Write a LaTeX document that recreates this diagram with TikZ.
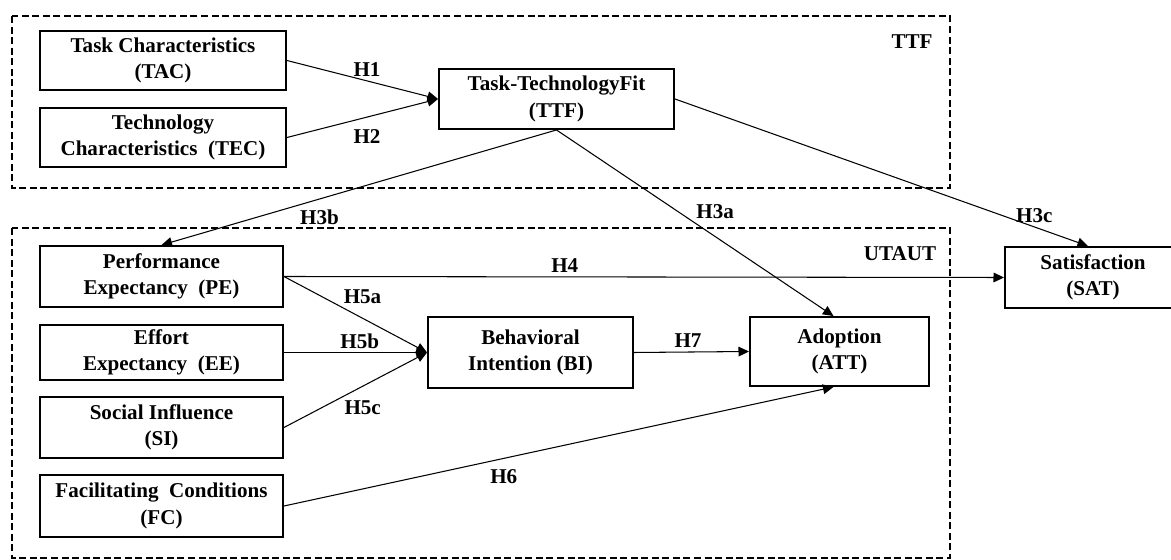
\documentclass[tikz,border=0pt]{standalone}
\usepackage{fontspec}
\setmainfont{Liberation Serif}
\usetikzlibrary{arrows.meta}

\begin{document}
\begin{tikzpicture}[x=0.02cm,y=-0.02cm,
    font=\bfseries\fontsize{12}{15}\selectfont,
    construct/.style={draw,line width=1.1pt,align=center,inner sep=0pt},
    path/.style={line width=0.6pt,-{Triangle[length=6pt,width=5.5pt]}},
    hyp/.style={inner sep=2pt},
    group/.style={line width=1.1pt,dash pattern=on 4pt off 2pt}]
    \useasboundingbox (0,0) rectangle (1171,560);
    %% the two frames
    \draw[group] (12,16) rectangle (950,188);
    \draw[group] (12,228) rectangle (950,558);
    \node (ttflbl) at (912,42) {TTF};
    \node (utautlbl) at (900,254) {UTAUT};
    %% task-technology fit part
    \node[construct,minimum width=246*0.02cm,minimum height=59*0.02cm] (tac) at (163,60.5)
        {Task Characteristics\\(TAC)};
    \node[construct,minimum width=246*0.02cm,minimum height=59*0.02cm] (tec) at (163,137.5)
        {Technology\\Characteristics~ (TEC)};
    \node[construct,minimum width=235*0.02cm,minimum height=60*0.02cm] (ttf) at (556.5,99)
        {Task-TechnologyFit\\(TTF)};
    %% utaut part (left column)
    \node[construct,minimum width=243*0.02cm,minimum height=61*0.02cm] (pe) at (161.5,276.5)
        {Performance\\Expectancy~ (PE)};
    \node[construct,minimum width=243*0.02cm,minimum height=55*0.02cm] (ee) at (161.5,352.5)
        {Effort\\Expectancy~ (EE)};
    \node[construct,minimum width=243*0.02cm,minimum height=61*0.02cm] (si) at (161.5,427.5)
        {Social Influence\\(SI)};
    \node[construct,minimum width=243*0.02cm,minimum height=62*0.02cm] (fc) at (161.5,506)
        {Facilitating~ Conditions\\(FC)};
    %% middle and outcomes
    \node[construct,minimum width=205*0.02cm,minimum height=71*0.02cm] (bi) at (530.5,352.5)
        {Behavioral\\Intention (BI)};
    \node[construct,minimum width=179*0.02cm,minimum height=69*0.02cm] (att) at (839.5,351.5)
        {Adoption\\(ATT)};
    \node[construct,minimum width=176*0.02cm,minimum height=61*0.02cm] (sat) at (1093,277.5)
        {Satisfaction\\(SAT)};
    %% hypotheses
    \draw[path] (tac.east) -- node[hyp,pos=.53,above] {H1} (ttf.west);
    \draw[path] (tec.east) -- node[hyp,pos=.53,below=5pt] {H2} (ttf.west);
    \draw[path] (ttf.south) -- node[hyp,pos=.6,below=4pt] {H3b} (pe.north);
    \draw[path] (ttf.south) -- node[hyp,pos=.44,right=8pt] {H3a} ([xshift=-6*0.02cm]att.north);
    \draw[path] (ttf.east) -- node[hyp,pos=.87,above] {H3c} ([xshift=-5*0.02cm]sat.north);
    \draw[path] (pe.east) -- node[hyp,pos=.39,above] {H4} (sat.west);
    \draw[path] (pe.east) -- node[hyp,pos=.5,above=4pt,xshift=4pt] {H5a} (bi.west);
    \draw[path] (ee.east) -- node[hyp,pos=.53,above] {H5b} (bi.west);
    \draw[path] (si.east) -- node[hyp,pos=.55,below=6pt] {H5c} (bi.west);
    \draw[path] (fc.east) -- node[hyp,pos=.4,below=4pt] {H6} ([xshift=-6*0.02cm]att.south);
    \draw[path] (bi.east) -- node[hyp,pos=.47,above] {H7} (att.west);
\end{tikzpicture}
\end{document}
